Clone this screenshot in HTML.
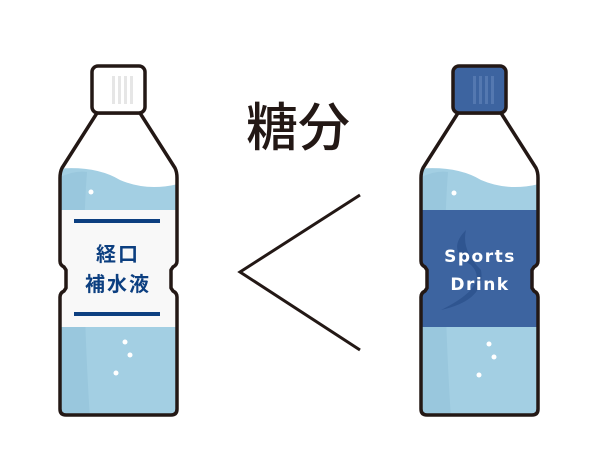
<!DOCTYPE html>
<html><head><meta charset="utf-8"><style>
body{margin:0;background:#fff;width:600px;height:465px;overflow:hidden}
</style></head><body>
<svg width="600" height="465" viewBox="0 0 600 465" xmlns="http://www.w3.org/2000/svg">
<defs>
<clipPath id="bc"><path id="bp" d="M97,113 L62,168 Q60,172 60,178 L60,261 Q60,265 64,267 L66,270 L66,288 L64,291 Q60,293 60,297 L60,409 Q60,415 66,415 L171,415 Q177,415 177,409 L177,297 Q177,293 173,291 L171,288 L171,270 L173,267 Q177,265 177,261 L177,178 Q177,172 175,168 L140,113 Z"/></clipPath>
</defs>
<text x="298" y="146" text-anchor="middle" font-family="'Noto Sans CJK JP',sans-serif" font-weight="500" font-size="52" fill="#231815">糖分</text>
<polyline points="360,195 240,272 360,350" fill="none" stroke="#231815" stroke-width="3"/>

<g id="left">
<g clip-path="url(#bc)">
<rect x="55" y="110" width="130" height="310" fill="#fff"/>
<path d="M55,169 Q95,165 120,180 Q150,193 185,182 L185,420 L55,420 Z" fill="#a3cfe3"/>
<path d="M55,180 Q72,170 87,172 Q80,260 90,420 L55,420 Z" fill="#90c0d8" opacity="0.5"/>
<rect x="55" y="210" width="130" height="117" fill="#f8f8f8"/>
</g>
<use href="#bp" fill="none" stroke="#231815" stroke-width="3.5" stroke-linejoin="round"/>
<rect x="92" y="66" width="53" height="47" rx="6" fill="#fff" stroke="#231815" stroke-width="3.5"/>
<g fill="#e6e6e6"><rect x="112" y="76" width="3" height="28"/><rect x="118" y="76" width="3" height="28"/><rect x="124" y="76" width="3" height="28"/><rect x="130" y="76" width="3" height="28"/></g>
<circle cx="91" cy="192" r="2.5" fill="#fff"/>
<circle cx="125" cy="342" r="2.5" fill="#fff"/><circle cx="130" cy="355" r="2.5" fill="#fff"/><circle cx="116" cy="373" r="2.5" fill="#fff"/>
</g>
<rect x="74" y="219" width="86" height="4" fill="#0c3f80"/>
<rect x="74" y="312" width="86" height="4" fill="#0c3f80"/>
<g font-family="'Noto Sans CJK JP',sans-serif" font-weight="700" font-size="20" fill="#0c3f80" text-anchor="middle" letter-spacing="2">
<text x="118" y="261">経口</text><text x="118" y="291">補水液</text></g>

<g transform="translate(361,0)">
<g clip-path="url(#bc)">
<rect x="55" y="110" width="130" height="310" fill="#fff"/>
<path d="M55,169 Q95,165 120,180 Q150,193 185,182 L185,420 L55,420 Z" fill="#a3cfe3"/>
<path d="M55,180 Q72,170 87,172 Q80,260 90,420 L55,420 Z" fill="#90c0d8" opacity="0.5"/>
<rect x="55" y="210" width="130" height="117" fill="#3d64a0"/>
</g>
<use href="#bp" fill="none" stroke="#231815" stroke-width="3.5" stroke-linejoin="round"/>
<rect x="92" y="66" width="53" height="47" rx="6" fill="#3d64a0" stroke="#231815" stroke-width="3.5"/>
<g fill="#5478b0"><rect x="112" y="76" width="3" height="28"/><rect x="118" y="76" width="3" height="28"/><rect x="124" y="76" width="3" height="28"/><rect x="130" y="76" width="3" height="28"/></g>
<path d="M105,230 Q85,250 110,265 Q130,285 80,310 Q125,300 120,270 Q100,250 105,230Z" fill="#2f5590"/>
<circle cx="93" cy="193" r="2.5" fill="#fff"/>
<circle cx="128" cy="344" r="2.5" fill="#fff"/><circle cx="133" cy="357" r="2.5" fill="#fff"/><circle cx="118" cy="375" r="2.5" fill="#fff"/>
<g font-family="'DejaVu Sans','Liberation Sans',sans-serif" font-weight="700" font-size="17" fill="#fff" text-anchor="middle" letter-spacing="1.5">
<text x="119" y="262">Sports</text><text x="119" y="290">Drink</text></g>
</g>
</svg>
</body></html>
